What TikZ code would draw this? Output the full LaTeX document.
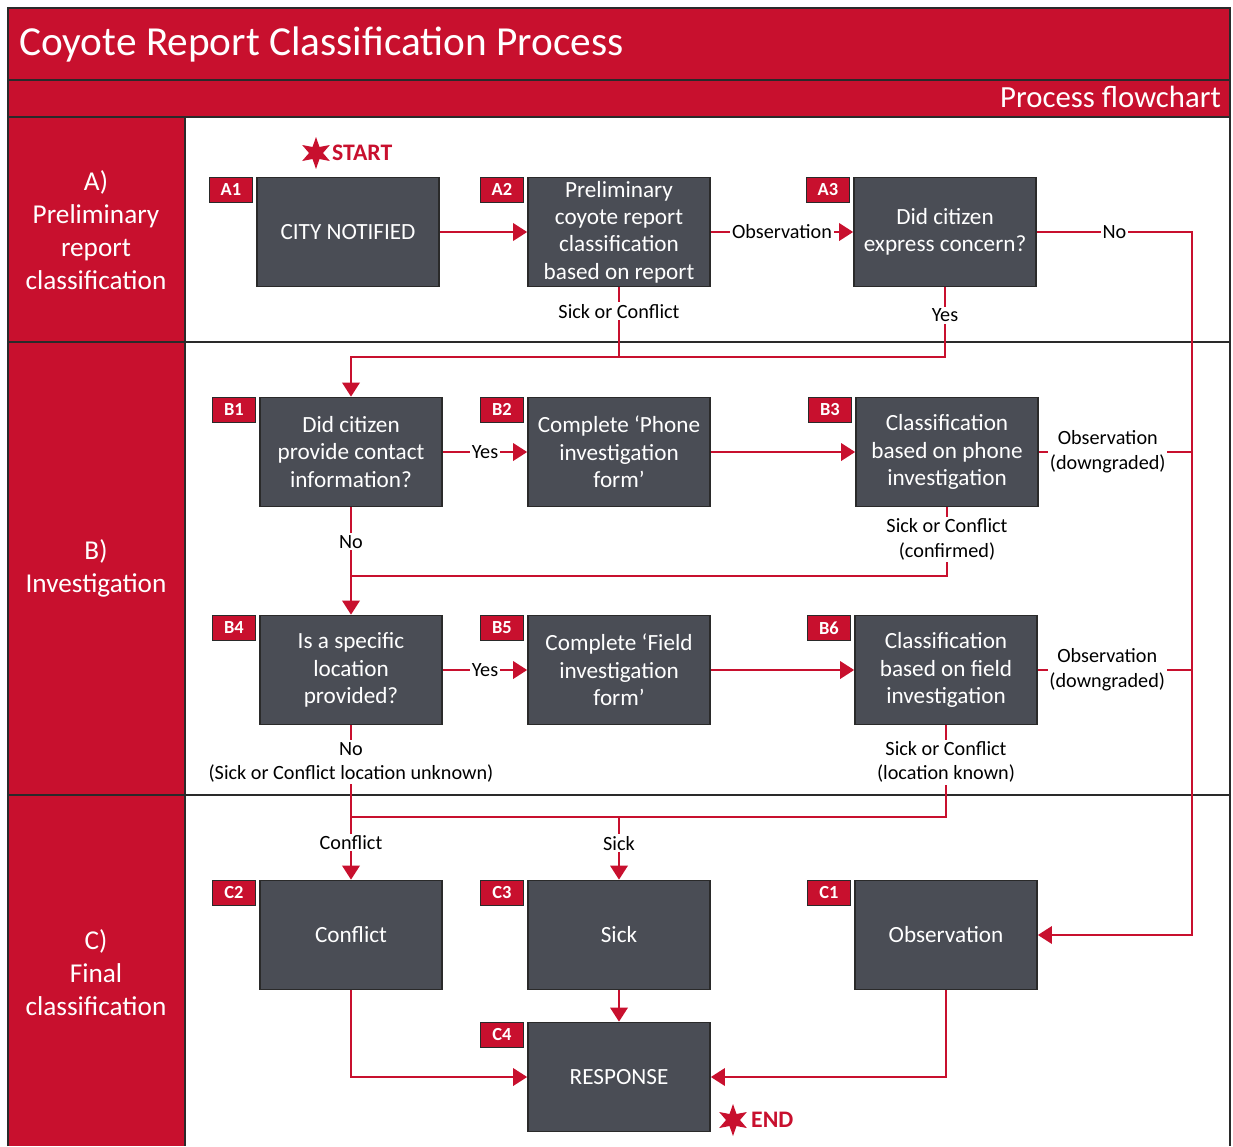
\documentclass[tikz,border=0pt]{standalone}
\usepackage{fontspec}
\setmainfont{Carlito}
\usetikzlibrary{arrows.meta,shapes.geometric}
\definecolor{coyred}{HTML}{C8102E}
\definecolor{boxgrey}{HTML}{4A4D55}
\definecolor{rule}{HTML}{2A2A2A}
\tikzset{
  stepbox/.style={draw=rule, line width=1pt, fill=boxgrey, text=white, align=center,
    minimum width=3.64cm, minimum height=2.18cm, inner sep=2pt,
    font=\fontsize{13.2}{15.6}\selectfont},
  tagbox/.style={draw=rule, line width=0.8pt, fill=coyred, text=white, anchor=north east,
    minimum width=0.86cm, minimum height=0.5cm, inner sep=0pt,
    font=\bfseries\fontsize{10.5}{11}\selectfont},
  flow/.style={draw=coyred, line width=1pt},
  arr/.style={flow, -{Triangle[length=8pt,width=10pt]}},
  lbl/.style={fill=white, inner sep=1pt, align=center, text=black,
    font=\fontsize{11.5}{14}\selectfont},
  lanetext/.style={text=white, align=center, font=\fontsize{15.5}{18.8}\selectfont},
  burst/.style={star, star points=6, star point ratio=2.3, fill=coyred, minimum size=0.64cm, inner sep=0pt},
  bursttext/.style={text=coyred, anchor=west, font=\bfseries\fontsize{13.5}{14}\selectfont},
}
\begin{document}
\begin{tikzpicture}[x=0.02cm, y=-0.02cm]
	\useasboundingbox (0,0) rectangle (1233,1146);
	\fill[white] (0,0) rectangle (1233,1146);
	
	% Frame and bands
	\fill[coyred] (8,8) rectangle (1230,117);
	\fill[coyred] (8,117) rectangle (185,1146);
	\draw[rule, line width=1.2pt] (8,1146) -- (8,8) -- (1230,8) -- (1230,1146);
	\draw[rule, line width=1.2pt] (8,80) -- (1230,80);
	\draw[rule, line width=1.2pt] (8,117) -- (1230,117);
	\draw[rule, line width=1.2pt] (185,117) -- (185,1146);
	\draw[rule, line width=1.2pt] (8,342) -- (1230,342);
	\draw[rule, line width=1.2pt] (8,795) -- (1230,795);
	\node[anchor=west, text=white, font=\fontsize{23.5}{26}\selectfont] (title) at (13,44) {Coyote Report Classification Process};
	\node[anchor=east, text=white, font=\fontsize{17.5}{20}\selectfont] (subtitle) at (1227,97) {Process flowchart};
	
	% Lane labels
	\node[lanetext] (laneA) at (96,230) {A)\\Preliminary\\report\\classification};
	\node[lanetext] (laneB) at (96,568) {B)\\Investigation};
	\node[lanetext] (laneC) at (96,973) {C)\\Final\\classification};
	
	% Steps
	\node[stepbox] (a1) at (348,232) {CITY NOTIFIED};
	\node[stepbox] (a2) at (619,232) {Preliminary\\coyote report\\classification\\based on report};
	\node[stepbox] (a3) at (945,232) {Did citizen\\express concern?};
	\node[stepbox] (b1) at (351,452) {Did citizen\\provide contact\\information?};
	\node[stepbox] (b2) at (619,452) {Complete ‘Phone\\investigation\\form’};
	\node[stepbox] (b3) at (947,452) {Classification\\based on phone\\investigation};
	\node[stepbox] (b4) at (351,670) {Is a specific\\location\\provided?};
	\node[stepbox] (b5) at (619,670) {Complete ‘Field\\investigation\\form’};
	\node[stepbox] (b6) at (946,670) {Classification\\based on field\\investigation};
	\node[stepbox] (c2) at (351,935) {Conflict};
	\node[stepbox] (c3) at (619,935) {Sick};
	\node[stepbox] (c1) at (946,935) {Observation};
	\node[stepbox] (c4) at (619,1077) {RESPONSE};
	
	% Tags
	\node[tagbox] (a1t) at ([xshift=-0.06cm]a1.north west) {A1};
	\node[tagbox] (a2t) at ([xshift=-0.06cm]a2.north west) {A2};
	\node[tagbox] (a3t) at ([xshift=-0.06cm]a3.north west) {A3};
	\node[tagbox] (b1t) at ([xshift=-0.06cm]b1.north west) {B1};
	\node[tagbox] (b2t) at ([xshift=-0.06cm]b2.north west) {B2};
	\node[tagbox] (b3t) at ([xshift=-0.06cm]b3.north west) {B3};
	\node[tagbox] (b4t) at ([xshift=-0.06cm]b4.north west) {B4};
	\node[tagbox] (b5t) at ([xshift=-0.06cm]b5.north west) {B5};
	\node[tagbox] (b6t) at ([xshift=-0.06cm]b6.north west) {B6};
	\node[tagbox] (c2t) at ([xshift=-0.06cm]c2.north west) {C2};
	\node[tagbox] (c3t) at ([xshift=-0.06cm]c3.north west) {C3};
	\node[tagbox] (c1t) at ([xshift=-0.06cm]c1.north west) {C1};
	\node[tagbox] (c4t) at ([xshift=-0.06cm]c4.north west) {C4};
	
	% Start and end
	\node[burst] (startstar) at (316,153) {};
	\node[bursttext] (starttext) at (326,153) {START};
	\node[burst] (endstar) at (733,1120) {};
	\node[bursttext] (endtext) at (745,1120) {END};
	
	% Junctions
	\coordinate (rail) at (1192,232);
	\coordinate (jnA) at (619,357);
	\coordinate (jnB) at (351,576);
	\coordinate (jnC) at (351,817);
	
	% Lane A flows
	\draw[arr] (a1) -- (a2);
	\draw[arr] (a2) -- node[lbl]{Observation} (a3);
	\draw[arr] (a3) -- node[lbl]{No} (a3 -| rail) |- (c1);
	\draw[flow] (a2) -- node[lbl, pos=0.34]{Sick or Conflict} (jnA);
	\draw[arr] (a3) -- node[lbl, pos=0.4]{Yes} (a3 |- jnA) -| (b1);
	
	% Lane B flows
	\draw[arr] (b1) -- node[lbl]{Yes} (b2);
	\draw[arr] (b2) -- (b3);
	\draw[flow] (b3) -- node[lbl, pos=0.45]{Observation\\(downgraded)} (b3 -| rail);
	\draw[flow] (b3) -- node[lbl, pos=0.47]{Sick or Conflict\\(confirmed)} (b3 |- jnB) -- (jnB);
	\draw[arr] (b1) -- node[lbl, pos=0.32]{No} (b4);
	\draw[arr] (b4) -- node[lbl]{Yes} (b5);
	\draw[arr] (b5) -- (b6);
	\draw[flow] (b6) -- node[lbl, pos=0.45]{Observation\\(downgraded)} (b6 -| rail);
	\draw[flow] (b6) -- node[lbl, pos=0.4]{Sick or Conflict\\(location known)} (b6 |- jnC) -- (jnC);
	
	% Lane C flows
	\draw[arr] (b4) -- node[lbl, pos=0.24]{No\\(Sick or Conflict location unknown)} node[lbl, pos=0.76]{Conflict} (c2);
	\draw[arr] (c3 |- jnC) -- node[lbl, pos=0.42]{Sick} (c3);
	\draw[arr] (c3) -- (c4);
	\draw[arr] (c2) |- (c4);
	\draw[arr] (c1) |- (c4);
\end{tikzpicture}
\end{document}
